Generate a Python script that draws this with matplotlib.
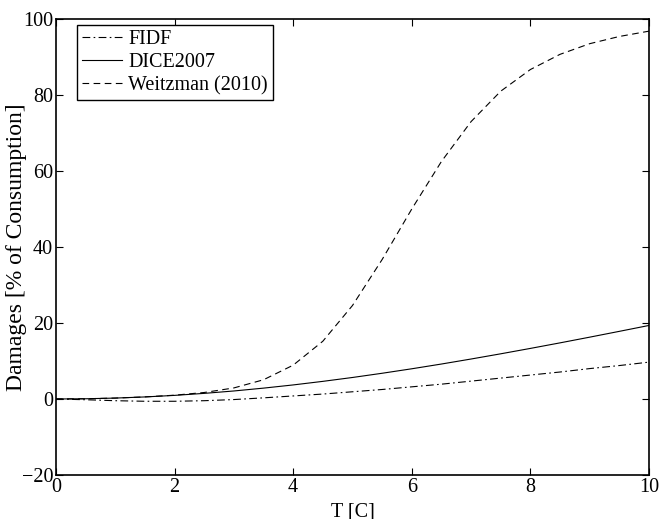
import numpy as np
import matplotlib
matplotlib.use('Agg')
import matplotlib.pyplot as plt

plt.rcParams['font.family'] = ['Liberation Serif', 'DejaVu Serif']
plt.rcParams['font.size'] = 14.5

# temperature grid and damages (% of consumption)
T = [0, 0.5, 1, 1.5, 2, 2.5, 3, 3.5, 4, 4.5, 5, 5.5, 6, 6.5, 7, 7.5, 8, 8.5, 9, 9.5, 10]
fidf = [0, -0.2, -0.45, -0.6, -0.6, -0.45, -0.15, 0.3, 0.8, 1.3, 1.9, 2.5, 3.2,
        3.9, 4.7, 5.5, 6.3, 7.1, 8.0, 8.8, 9.7]
dice = [0, 0.06, 0.24, 0.54, 0.95, 1.48, 2.11, 2.86, 3.70, 4.64, 5.66, 6.77, 7.95,
        9.20, 10.52, 11.89, 13.31, 14.77, 16.27, 17.80, 19.35]
weitzman = [0, 0.06, 0.24, 0.55, 1.0, 1.71, 2.91, 5.06, 8.9, 15.2, 24.6, 36.7, 50.0,
            62.5, 73.0, 81.0, 86.7, 90.7, 93.5, 95.4, 96.8]

fig = plt.figure(figsize=(6.61, 5.19), dpi=100)
ax = fig.add_axes([0.0847, 0.0848, 0.8971, 0.8786])

ax.plot(T, fidf, color='k', lw=0.8, linestyle=(0, (7, 3, 1.5, 3)), label='FIDF')
ax.plot(T, dice, color='k', lw=0.8, linestyle='-', label='DICE2007')
ax.plot(T, weitzman, color='k', lw=0.8, linestyle=(0, (6, 4)), label='Weitzman (2010)')

ax.set_xlim(0, 10)
ax.set_ylim(-20, 100)
ax.set_xticks(range(0, 11, 2))
ax.set_yticks(range(-20, 101, 20))
ax.tick_params(direction='in', length=5, width=0.8, top=True, right=True, pad=2)
for s in ax.spines.values():
    s.set_linewidth(1.2)

ax.set_xlabel('T [C]', labelpad=4)
ax.set_ylabel('Damages [% of Consumption]', fontsize=17, labelpad=-4)

leg = ax.legend(loc='upper left', bbox_to_anchor=(0.035, 0.987), frameon=True,
                fancybox=False, edgecolor='k', framealpha=1, borderaxespad=0,
                handlelength=2.0, handletextpad=0.3, labelspacing=0.2,
                borderpad=0.25)
leg.get_frame().set_linewidth(1.0)

fig.savefig('out.png', dpi=100)
